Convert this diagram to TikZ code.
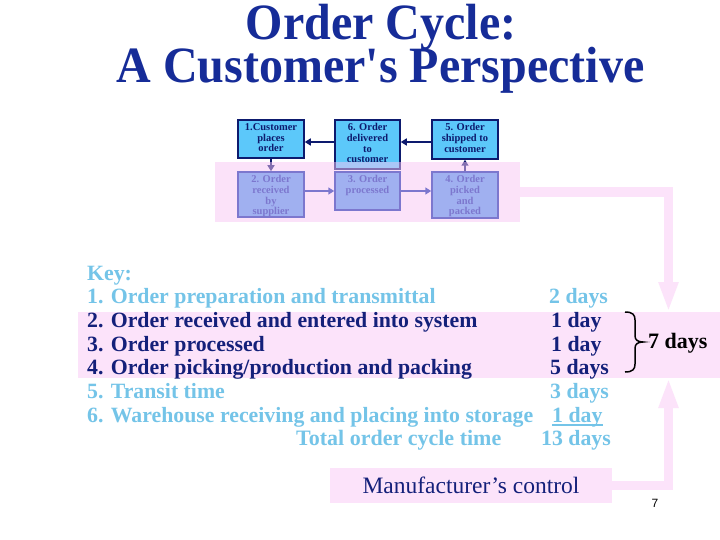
\documentclass[tikz,border=0pt]{standalone}
\usepackage{fontspec}
\setmainfont{Liberation Serif}
\newfontfamily\pagenumfont{Liberation Sans}
\usetikzlibrary{arrows.meta,calc}
\definecolor{titleblue}{RGB}{22,44,152}
\definecolor{navy}{RGB}{13,26,110}
\definecolor{keylight}{RGB}{116,196,232}
\definecolor{keynavy}{RGB}{20,32,122}
\definecolor{pinkband}{RGB}{252,227,250}
\definecolor{pinkov}{RGB}{249,199,245}
\definecolor{topfill}{RGB}{92,200,250}
\definecolor{botfill}{RGB}{71,153,235}
\definecolor{botline}{RGB}{0,40,168}
\begin{document}
\begin{tikzpicture}[x=1pt,y=-1pt,
  topbox/.style={draw=navy, line width=1.5pt, fill=topfill, inner sep=0pt},
  botbox/.style={draw=botline, line width=1.5pt, fill=botfill, inner sep=0pt},
  boxtext/.style={anchor=north, inner sep=0pt, align=center, yshift=-4pt,
    font=\fontsize{10.5}{10.7}\selectfont\bfseries},
  toparr/.style={draw=navy, line width=1.6pt, -{Triangle[length=6pt,width=7pt]}},
  botarr/.style={draw=botline, line width=1.6pt, -{Triangle[length=6pt,width=7pt]}},
  keytext/.style={anchor=base west, inner sep=0pt, font=\fontsize{21.8}{24}\selectfont\bfseries},
  lightk/.style={keytext, text=keylight},
  darkk/.style={keytext, text=keynavy},
  pinkconn/.style={draw=pinkband, line width=9.5pt, -{Triangle[length=30pt,width=18pt]}},
  bandstyle/.style={inner sep=0pt, outer sep=0pt},
]
\fill[white] (0,0) rectangle (720,540);
\useasboundingbox (0,0) rectangle (720,540);

% title
\node[anchor=base, inner sep=0pt, text=titleblue, font=\fontsize{48}{48}\selectfont\bfseries]
  (t1) at (381,40) {\scalebox{1}[1.06]{Order Cycle:}};
\node[anchor=base, inner sep=0pt, text=titleblue, font=\fontsize{48}{48}\selectfont\bfseries]
  (t2) at (380.5,83) {\scalebox{1}[1.06]{A Customer\textquotesingle s Perspective}};

% boxes
\node[topbox, minimum width=66pt, minimum height=38pt] (B1) at (271,139) {};
\node[topbox, minimum width=65pt, minimum height=49pt] (B6) at (367.5,144.5) {};
\node[topbox, minimum width=66pt, minimum height=39pt] (B5) at (465,139.5) {};
\node[botbox, minimum width=66pt, minimum height=45pt] (B2) at (271,194.5) {};
\node[botbox, minimum width=65pt, minimum height=38pt] (B3) at (367.5,191) {};
\node[botbox, minimum width=66pt, minimum height=46pt] (B4) at (465,195) {};

\node[boxtext, text=navy] (T1) at (B1.north) {1.Customer\\places\\order};
\node[boxtext, text=navy] (T6) at (B6.north) {6. Order\\delivered\\to\\customer};
\node[boxtext, text=navy] (T5) at (B5.north) {5. Order\\shipped to\\customer};
\node[boxtext, text=botline] (T2) at (B2.north) {2. Order\\received\\by\\supplier};
\node[boxtext, text=botline] (T3) at (B3.north) {3. Order\\processed};
\node[boxtext, text=botline] (T4) at (B4.north) {4. Order\\picked\\and\\packed};

% box connectors
\coordinate (ay) at (0,142);
\draw[toparr] (B1.south) -- (B2.north);
\draw[botarr] (B2.east |- B3.west) -- (B3.west);
\draw[botarr] (B3.east) -- (B3.east -| B4.west);
\draw[toparr] (B4.north) -- (B5.south);
\draw[toparr] (B5.west |- ay) -- (B6.east |- ay);
\draw[toparr] (B6.west |- ay) -- (B1.east |- ay);

% translucent band over lower row
\node[bandstyle, fill=pinkov, fill opacity=0.5, minimum width=305pt, minimum height=60pt]
  (band1) at (367.5,192) {};

% key band
\node[bandstyle, fill=pinkband, minimum width=642pt, minimum height=66pt] (keyband) at (399,345) {};

% manufacturer box
\node[bandstyle, fill=pinkband, minimum width=282pt, minimum height=35pt, text=keynavy,
  font=\fontsize{23.5}{24}\selectfont] (mfr) at (471,485.5) {Manufacturer’s control};

% pink connectors
\coordinate (cx) at (668.5,0);
\draw[pinkconn] (band1.east) -| (cx |- keyband.north);
\draw[pinkconn] (mfr.east) -| (cx |- keyband.south);

% key text
\node[lightk] (k0) at (87,280) {Key:};
\node[lightk] (k1) at (87,303.7) {1. Order preparation and transmittal};
\node[darkk] (k2) at (87,327.4) {2. Order received and entered into system};
\node[darkk] (k3) at (87,351.1) {3. Order processed};
\node[darkk] (k4) at (87,374.8) {4. Order picking/production and packing};
\node[lightk] (k5) at (87,398.5) {5. Transit time};
\node[lightk] (k6) at (87,422.2) {6. Warehouse receiving and placing into storage};
\node[lightk, font=\fontsize{22}{24}\selectfont\bfseries] (k7) at (296,445.9) {Total order cycle time};

\node[lightk] (d1) at (549,303.7) {2 days};
\node[darkk] (d2) at (551,327.4) {1 day};
\node[darkk] (d3) at (551,351.1) {1 day};
\node[darkk] (d4) at (550,374.8) {5 days};
\node[lightk] (d5) at (550,398.5) {3 days};
\node[lightk] (d6) at (552,422.2) {1 day};
\node[lightk] (d7) at (541,445.9) {13 days};
\draw[keylight, line width=1.5pt] ([yshift=-3pt]d6.base west) -- ([yshift=-3pt]d6.base east);

% brace and total
\draw[black, line width=1.5pt] (625,312) .. controls (633,312) and (635,315) .. (635,320)
  -- (635,336) .. controls (635,340) and (638,342) .. (643,342)
  .. controls (638,342) and (635,344) .. (635,348)
  -- (635,364) .. controls (635,369) and (633,372) .. (625,372);
\node[keytext, text=black, font=\fontsize{22}{24}\selectfont\bfseries] (seven) at (648,348) {7 days};

% page number
\node[inner sep=0pt, font=\pagenumfont\fontsize{12}{12}\selectfont] (pg) at (655,503) {7};
\end{tikzpicture}
\end{document}
